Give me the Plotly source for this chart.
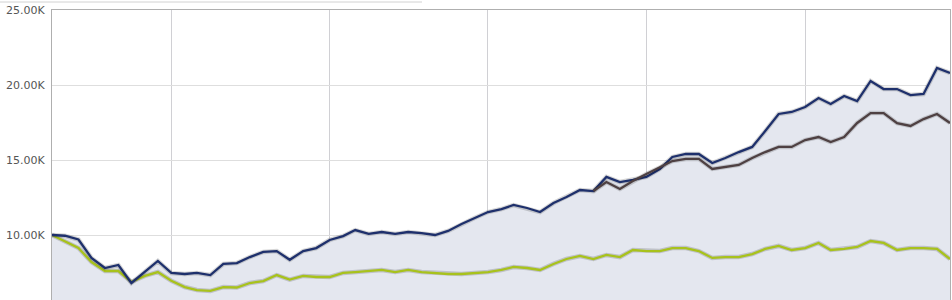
import plotly.graph_objects as go
import pandas as pd

months = pd.date_range("2008-04-01", periods=69, freq="MS")

portfolio = [10.0, 9.95, 9.7, 8.47, 7.8, 8.0, 6.8, 7.53, 8.27, 7.47,
             7.4, 7.47, 7.33, 8.07, 8.13, 8.53, 8.87, 8.93, 8.35, 8.93,
             9.13, 9.67, 9.93, 10.33, 10.07, 10.2, 10.07, 10.2, 10.13, 10.0,
             10.27, 10.73, 11.13, 11.53, 11.73, 12.0, 11.8, 11.53, 12.13, 12.53,
             13.0, 12.93, 13.87, 13.53, 13.67, 13.87, 14.4, 15.2, 15.4, 15.4,
             14.8, 15.13, 15.53, 15.87, 16.93, 18.07, 18.2, 18.53, 19.13, 18.73,
             19.27, 18.93, 20.27, 19.73, 19.73, 19.33, 19.4, 21.13, 20.8]

benchmark = [None] * 41 + [12.93, 13.53, 13.07, 13.6, 14.07, 14.5, 14.93, 15.07, 15.07,
             14.4, 14.53, 14.67, 15.13, 15.53, 15.87, 15.87, 16.33, 16.53, 16.2,
             16.53, 17.47, 18.13, 18.13, 17.45, 17.27, 17.73, 18.07, 17.47]

index_series = [10.0, 9.55, 9.13, 8.2, 7.6, 7.6, 6.87, 7.27, 7.53, 6.95,
                6.53, 6.33, 6.27, 6.53, 6.5, 6.8, 6.93, 7.33, 7.03, 7.27,
                7.2, 7.2, 7.47, 7.53, 7.6, 7.67, 7.53, 7.67, 7.53, 7.47,
                7.4, 7.4, 7.47, 7.53, 7.67, 7.87, 7.8, 7.67, 8.07, 8.4,
                8.6, 8.4, 8.67, 8.53, 9.0, 8.93, 8.93, 9.13, 9.13, 8.93,
                8.47, 8.53, 8.53, 8.73, 9.07, 9.27, 9.0, 9.13, 9.47, 9.0,
                9.07, 9.2, 9.6, 9.47, 9.0, 9.13, 9.13, 9.07, 8.4]

tick_vals = [10000, 15000, 20000, 25000]
tick_text = ["10.00K", "15.00K", "20.00K", "25.00K"]

k = lambda arr: [None if v is None else v * 1000 for v in arr]

BLUE = "rgb(30,48,108)"
BROWN = "rgb(78,64,66)"
GREEN = "rgb(168,194,28)"
SHADOW = "rgba(0,0,0,0.16)"

fig = go.Figure()
fig.add_trace(go.Scatter(x=months, y=k(portfolio), mode="lines", fill="tozeroy",
                         fillcolor="rgb(228,231,239)", line=dict(width=0),
                         hoverinfo="skip", showlegend=False))
for name, arr, col in [("Index", index_series, GREEN),
                       ("Portfolio", portfolio, BLUE),
                       ("Benchmark", benchmark, BROWN)]:
    fig.add_trace(go.Scatter(x=months, y=k(arr), mode="lines",
                             line=dict(color=SHADOW, width=4.5),
                             hoverinfo="skip", showlegend=False))
    fig.add_trace(go.Scatter(x=months, y=k(arr), mode="lines", name=name,
                             line=dict(color=col, width=2.3)))

fig.update_layout(
    width=952, height=300,
    margin=dict(l=52, r=2, t=10, b=0),
    paper_bgcolor="white", plot_bgcolor="white",
    showlegend=False,
    font=dict(family="DejaVu Sans", size=11, color="rgb(85,85,85)"),
)
fig.update_xaxes(
    type="date", range=[months[0], months[-1]],
    dtick="M12", tick0="2009-01-01",
    showgrid=True, gridcolor="rgb(208,208,212)", gridwidth=1,
    showticklabels=False, zeroline=False,
    side="top", showline=True, linecolor="rgb(175,175,175)", linewidth=1,
)
fig.update_yaxes(
    range=[25000 - 290 / 15 * 1000, 25000],
    tickvals=tick_vals, ticktext=tick_text,
    showgrid=True, gridcolor="rgb(222,222,222)", gridwidth=1,
    zeroline=False, showline=True, mirror=True,
    linecolor="rgb(175,175,175)", linewidth=1, ticks="", ticklabelstandoff=4,
)
fig.add_shape(type="line", xref="paper", yref="paper",
              x0=-52 / 898, x1=370 / 898, y0=1 + 8 / 290, y1=1 + 8 / 290,
              line=dict(color="rgb(210,210,210)", width=1))

fig.write_html("out.html")
